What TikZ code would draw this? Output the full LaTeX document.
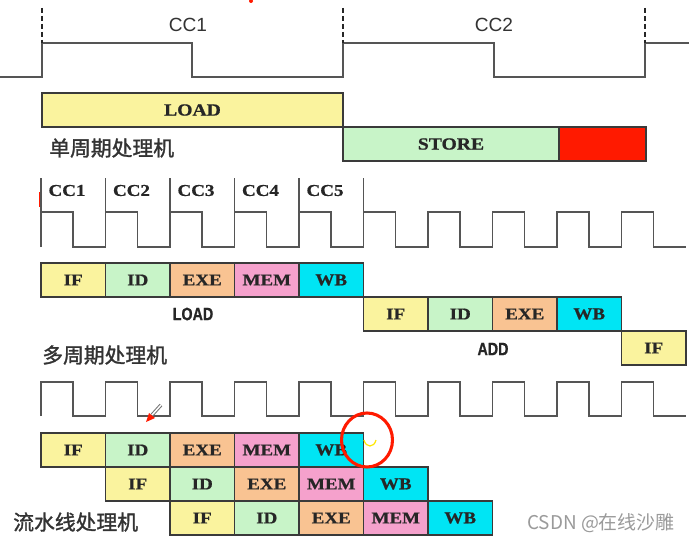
\documentclass[tikz,border=0pt]{standalone}
\usepackage{fontspec}
\setmainfont{Liberation Serif}
\newfontfamily\cjkfont{Noto Sans CJK SC}[FakeBold=1.4]
\newfontfamily\wmfont{Noto Sans CJK SC}
\newfontfamily\arialfont{Liberation Sans}
\newfontfamily\narrowfont{Liberation Sans Bold}[FakeStretch=0.8,FakeBold=0.8]
\newfontfamily\boxfont{Liberation Serif Bold}[FakeStretch=1.15,FakeBold=0.8]
\definecolor{cy}{HTML}{FAF39E}
\definecolor{cg}{HTML}{C8F4C8}
\definecolor{co}{HTML}{F9C392}
\definecolor{cp}{HTML}{F5A1CC}
\definecolor{cc}{HTML}{00E5F4}
\definecolor{cr}{HTML}{FF1A00}
\definecolor{boxline}{HTML}{3A3A3A}
\definecolor{clkgray}{HTML}{555555}
\definecolor{txtgray}{HTML}{333333}
\definecolor{wmgray}{HTML}{9A9A9A}
\tikzset{
  stage/.style={draw=boxline, line width=0.8pt, anchor=north west,
    minimum width={64.5*0.75pt}, minimum height={34*0.75pt},
    inner sep=0pt, outer sep=0pt,
    font=\boxfont\fontsize{12.4pt}{14pt}\selectfont, text=black!85},
  bigbox/.style={stage, minimum height={34*0.75pt},
    font=\boxfont\fontsize{12.8pt}{14pt}\selectfont},
  clk/.style={draw=clkgray, line width=1.1pt, line join=miter},
  clkdash/.style={draw=black!85, line width=1.4pt, dash pattern=on 3.5pt off 2.5pt},
  topcc/.style={font=\arialfont\fontsize{14.3pt}{16pt}\selectfont, text=txtgray},
  midcc/.style={font=\boxfont\fontsize{12.4pt}{14pt}\selectfont, text=black!85},
  instr/.style={font=\narrowfont\fontsize{13.4pt}{15pt}\selectfont, text=black!85},
  cjklabel/.style={font=\cjkfont\fontsize{15.6pt}{17pt}\selectfont, text=txtgray, anchor=west, inner sep=0pt},
}
\begin{document}
\begin{tikzpicture}[x=0.75pt,y=-0.75pt]
\useasboundingbox (0,0) rectangle (693,542);
\fill[white] (0,0) rectangle (693,542);

% ---------- top clock (single cycle)
\draw[clk] (0,77) -- (42,77) -- (42,43) -- (192,43) -- (192,77) -- (343,77)
  -- (343,43) -- (494,43) -- (494,77) -- (645,77) -- (645,43) -- (689,43);
\foreach \x in {42,343,645} \draw[clkdash] (\x,8) -- (\x,43);
\node[topcc] (tcc1) at (188,25) {CC1};
\node[topcc] (tcc2) at (494,25) {CC2};
\fill[cr] (251,1) circle (2);

% ---------- single cycle boxes
\node[bigbox, fill=cy, minimum width={301*0.75pt}] (sload) at (42,93) {LOAD};
\node[bigbox, fill=cg, minimum width={216*0.75pt}] (sstore) at (343,127) {STORE};
\node[bigbox, fill=cr, minimum width={87*0.75pt}] (sred) at (559,127) {};
\node[cjklabel] (lsingle) at (49,148) {单周期处理机};

% ---------- multi cycle clock
\draw[clk] (41,247) \foreach \k in {0,...,9} {
  -- ({41+\k*64.5},247) -- ({41+\k*64.5},212) -- ({41+\k*64.5+32},212) -- ({41+\k*64.5+32},247) }
  -- (685.5,247);
\foreach \k in {0,...,5} \draw[clk] ({41+\k*64.5},178) -- ({41+\k*64.5},212);
\foreach \k in {1,...,5} \node[midcc] (mcc\k) at ({41+(\k-1)*64.5+26},190.5) {CC\k};
\draw[cr, line width=1.2pt] (39.5,192) -- (39.5,207);

% ---------- multi cycle boxes
\foreach \k/\t/\c in {0/IF/cy,1/ID/cg,2/EXE/co,3/MEM/cp,4/WB/cc}
  \node[stage, fill=\c] (ma\k) at ({41+\k*64.5},263) {\t};
\foreach \k/\t/\c in {5/IF/cy,6/ID/cg,7/EXE/co,8/WB/cc}
  \node[stage, fill=\c] (mb\k) at ({41+\k*64.5},297) {\t};
\node[stage, fill=cy] (mc9) at ({41+9*64.5},331) {IF};
\node[instr] (lload) at (193,314) {LOAD};
\node[instr] (ladd) at (493,349) {ADD};
\node[cjklabel] (lmulti) at (42,355) {多周期处理机};

% ---------- pipeline clock
\draw[clk] (41,416) \foreach \k in {0,...,9} {
  -- ({41+\k*64.5},416) -- ({41+\k*64.5},382) -- ({41+\k*64.5+32},382) -- ({41+\k*64.5+32},416) }
  -- (685.5,416);

% ---------- pipeline boxes
\foreach \r in {0,1,2} {
  \foreach \s/\t/\c in {0/IF/cy,1/ID/cg,2/EXE/co,3/MEM/cp,4/WB/cc}
    \node[stage, fill=\c] (p\r\s) at ({41+(\r+\s)*64.5},{433+\r*34}) {\t};
}
\node[cjklabel] (lpipe) at (13,522) {流水线处理机};

% ---------- annotations
\draw[cr, line width=2.3pt] (367,440) ellipse [x radius=25.5, y radius=27];
\draw[yellow!90!orange, line width=0.9pt] (364,440) .. controls (366,448) and (374,448) .. (376,440);
\draw[black!55, line width=2.6pt] (161,405) -- (152,415);
\draw[white, line width=1.1pt] (161,405) -- (152,415);
\fill[cr] (146,422) -- (149,413) -- (155,418) -- cycle;

% ---------- watermark
\node[font=\wmfont\fontsize{14.2pt}{16pt}\selectfont, text=wmgray, anchor=west, inner sep=0pt] (wm) at (527,523) {CSDN @在线沙雕};
\end{tikzpicture}
\end{document}
